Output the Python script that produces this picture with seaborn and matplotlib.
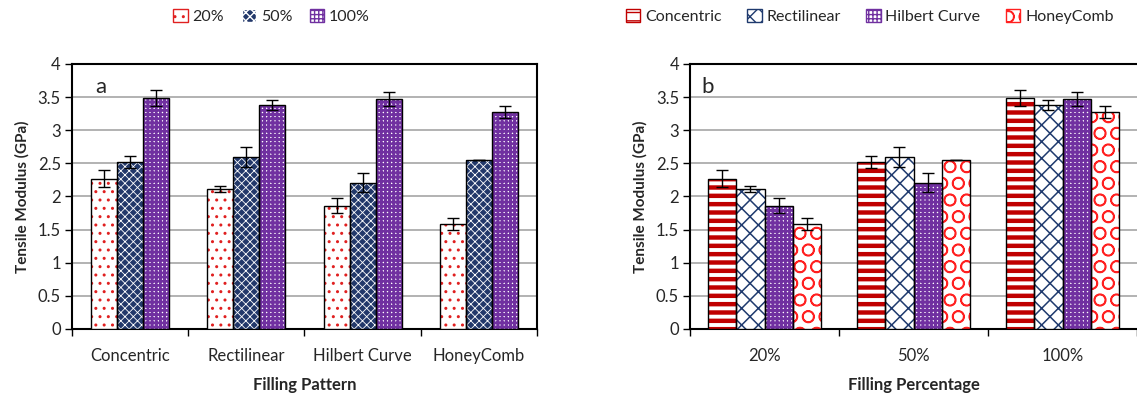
import numpy as np
import pandas as pd
import seaborn as sns
import matplotlib
matplotlib.use("Agg")
import matplotlib.pyplot as plt
from matplotlib.patches import Patch, Rectangle
from matplotlib.ticker import FixedLocator

patterns = ["Concentric", "Rectilinear", "Hilbert Curve", "HoneyComb"]
percentages = ["20%", "50%", "100%"]
# modulus values (GPa) per pattern for 20%, 50%, 100%
mod_20 = [2.27, 2.11, 1.86, 1.58]
mod_50 = [2.52, 2.59, 2.21, 2.55]
mod_100 = [3.49, 3.38, 3.47, 3.28]
err_20 = [0.13, 0.045, 0.115, 0.09]
err_50 = [0.085, 0.15, 0.14, 0.006]
err_100 = [0.12, 0.08, 0.11, 0.09]
yticks = [0, 0.5, 1, 1.5, 2, 2.5, 3, 3.5, 4]

rows = []
for i, p in enumerate(patterns):
    for pc, vals, errs in zip(percentages, [mod_20, mod_50, mod_100], [err_20, err_50, err_100]):
        rows.append(dict(pattern=p, pct=pc, mod=vals[i], err=errs[i]))
df = pd.DataFrame(rows)

sns.set_theme(style="white")
plt.rcParams["font.family"] = ["Lato", "DejaVu Sans"]
plt.rcParams["hatch.linewidth"] = 1.0

# styles: (facecolor, hatch, hatchcolor, hatch linewidth)
pct_style = {
    "20%": ("white", "..", "#e02020", 1.0),
    "50%": ("#22386a", "xxxx", "white", 0.6),
    "100%": ("white", "++++", "#7030a0", 2.0),
}
pat_style = {
    "Concentric": ("white", "--", "#c00000", 3.2),
    "Rectilinear": ("white", "xx", "#1f3a6e", 1.1),
    "Hilbert Curve": ("white", "++++", "#7030a0", 2.0),
    "HoneyComb": ("white", "O", "#ff2020", 1.1),
}


def style_patch(patch, st):
    fc, hatch, hc, hlw = st
    patch.set_facecolor(fc)
    patch.set_hatch(hatch)
    patch.set_edgecolor(hc)
    if hasattr(patch, "set_hatch_linewidth"):
        patch.set_hatch_linewidth(hlw)
    else:
        patch._hatch_linewidth = hlw


fig = plt.figure(figsize=(11.37, 3.98), dpi=100)
axA = fig.add_axes([0.0633, 0.1734, 0.409, 0.6658])
axB = fig.add_axes([0.6069, 0.1734, 0.3931, 0.6658])


def draw(ax, x, hue, order, hue_order, styles, width):
    sns.barplot(data=df, x=x, y="mod", hue=hue, order=order, hue_order=hue_order,
                errorbar=None, width=width, ax=ax, legend=False, saturation=1,
                zorder=3)
    for h, cont in zip(hue_order, ax.containers):
        sub = df[df[hue] == h].set_index(x).loc[order]
        xs, ys = [], []
        for patch in cont.patches:
            style_patch(patch, styles[h])
            patch.set_linewidth(0)
            ax.add_patch(Rectangle(patch.get_xy(), patch.get_width(), patch.get_height(),
                                   fill=False, edgecolor="black", linewidth=1.0, zorder=4))
            xs.append(patch.get_x() + patch.get_width() / 2)
            ys.append(patch.get_height())
        ax.errorbar(xs, ys, yerr=sub["err"].values, fmt="none", ecolor="black",
                    elinewidth=1, capsize=4, capthick=1, zorder=5)
    ax.set_ylim(0, 4)
    ax.set_yticks(yticks)
    ax.set_yticklabels([f"{t:g}" for t in yticks], fontsize=12)
    ax.yaxis.grid(True, color="#a6a6a6", linewidth=1.2, zorder=0)
    ax.set_axisbelow(True)
    n = len(order)
    ax.set_xlim(-0.5, n - 0.5)
    ax.tick_params(axis="x", which="major", length=0, labelsize=12, pad=14)
    ax.xaxis.set_minor_locator(FixedLocator(np.arange(-0.5, n, 1.0)))
    ax.tick_params(axis="x", which="minor", length=5, width=1, color="black", direction="out", bottom=True)
    ax.tick_params(axis="y", length=5, width=1, color="black", direction="out", left=True, pad=3)
    for s in ax.spines.values():
        s.set_color("black")
        s.set_linewidth(1.5)
    ax.set_ylabel("Tensile Modulus (GPa)", fontsize=11, fontweight="bold", labelpad=6)


draw(axA, "pattern", "pct", patterns, percentages, pct_style, 0.67)
axA.set_xlabel("Filling Pattern", fontsize=12, fontweight="bold", labelpad=9)
axA.text(0.05, 0.95, "a", transform=axA.transAxes, fontsize=16, va="top", ha="left")

draw(axB, "pct", "pattern", percentages, patterns, pat_style, 0.76)
axB.spines["right"].set_visible(False)
axB.set_xlabel("Filling Percentage", fontsize=12, fontweight="bold", labelpad=9)
axB.text(0.025, 0.95, "b", transform=axB.transAxes, fontsize=16, va="top", ha="left")


def handles(styles, keys):
    hs = []
    for k in keys:
        p = Patch(label=k, linewidth=1.0)
        style_patch(p, styles[k])
        hs.append(p)
    return hs


legA = fig.legend(handles=handles(pct_style, percentages), loc="center", ncol=3,
                  bbox_to_anchor=(0.239, 0.958), frameon=False, fontsize=11.5,
                  handlelength=0.9, handleheight=0.9, handletextpad=0.3, columnspacing=1.1)
legB = fig.legend(handles=handles(pat_style, patterns), loc="center", ncol=4,
                  bbox_to_anchor=(0.765, 0.958), frameon=False, fontsize=11.5,
                  handlelength=0.9, handleheight=0.9, handletextpad=0.3, columnspacing=1.6)

fig.savefig("out.png", dpi=100)
